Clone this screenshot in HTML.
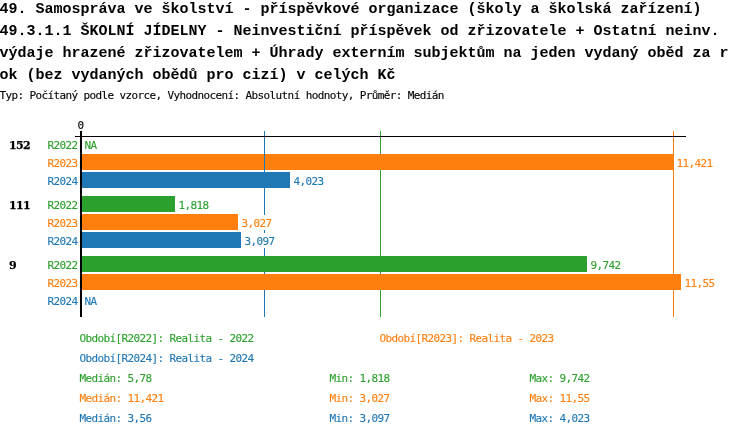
<!DOCTYPE html>
<html lang="cs"><head><meta charset="utf-8"><title>Graf</title>
<style>
html,body{margin:0;padding:0;background:#fff;}
body{width:750px;height:436px;position:relative;overflow:hidden;font-family:"Liberation Mono",monospace;}
.a{position:absolute;white-space:pre;}
.t{font-weight:bold;font-size:15px;line-height:22px;left:-0.5px;color:#000;}
.s{-webkit-text-stroke:0.12px;margin-left:-0.5px;font-family:"DejaVu Sans Mono","Liberation Mono",monospace;font-size:11px;letter-spacing:-0.62px;line-height:13px;height:13px;}
.l{background:#fff;height:15px;line-height:17px;}
.b{-webkit-text-stroke:0.25px;font-family:"DejaVu Serif","Liberation Serif",serif;font-weight:bold;font-size:11px;letter-spacing:-0.66px;line-height:13px;color:#000;}
.g{color:#2ca02c}.o{color:#ff7f0e}.u{color:#1f77b4}
.bg{background:#2ca02c}.bo{background:#ff7f0e}.bu{background:#1f77b4}
.k{background:#000}
</style></head>
<body>
<div class="a t" style="top:-1px">49. Samospráva ve školství - příspěvkové organizace (školy a školská zařízení)</div>
<div class="a t" style="top:21px">49.3.1.1 ŠKOLNÍ JÍDELNY - Neinvestiční příspěvek od zřizovatele + Ostatní neinv.</div>
<div class="a t" style="top:43px">výdaje hrazené zřizovatelem + Úhrady externím subjektům na jeden vydaný oběd za r</div>
<div class="a t" style="top:65px">ok (bez vydaných obědů pro cizí) v celých Kč</div>
<div class="a s" style="left:0px;top:89px;color:#000">Typ: Počítaný podle vzorce, Vyhodnocení: Absolutní hodnoty, Průměr: Medián</div>
<div class="a s" style="left:78px;top:119px;color:#000">0</div>
<div class="a bg" style="left:380px;top:131px;width:1px;height:186px"></div>
<div class="a bo" style="left:82px;top:154px;width:591px;height:16px"></div>
<div class="a bu" style="left:82px;top:172px;width:208px;height:16px"></div>
<div class="a bo" style="left:673px;top:131px;width:1px;height:186px"></div>
<div class="a bu" style="left:264px;top:131px;width:1px;height:186px"></div>
<div class="a bg" style="left:82px;top:196px;width:93px;height:16px"></div>
<div class="a bo" style="left:82px;top:214px;width:156px;height:16px"></div>
<div class="a bu" style="left:82px;top:232px;width:159px;height:16px"></div>
<div class="a bg" style="left:82px;top:256px;width:505px;height:16px"></div>
<div class="a bo" style="left:82px;top:274px;width:599px;height:16px"></div>
<div class="a k" style="left:75px;top:136px;width:611px;height:1px"></div>
<div class="a k" style="left:80px;top:131px;width:2px;height:186px"></div>
<div class="a b" style="left:9px;top:139px">152</div>
<div class="a s g" style="left:48px;top:139px">R2022</div>
<div class="a s l g" style="left:85px;top:137px">NA</div>
<div class="a s o" style="left:48px;top:157px">R2023</div>
<div class="a s l o" style="left:677px;top:155px">11,421</div>
<div class="a s u" style="left:48px;top:175px">R2024</div>
<div class="a s l u" style="left:294px;top:173px">4,023</div>
<div class="a b" style="left:9px;top:199px">111</div>
<div class="a s g" style="left:48px;top:199px">R2022</div>
<div class="a s l g" style="left:179px;top:197px">1,818</div>
<div class="a s o" style="left:48px;top:217px">R2023</div>
<div class="a s l o" style="left:242px;top:215px">3,027</div>
<div class="a s u" style="left:48px;top:235px">R2024</div>
<div class="a s l u" style="left:245px;top:233px">3,097</div>
<div class="a b" style="left:9px;top:259px">9</div>
<div class="a s g" style="left:48px;top:259px">R2022</div>
<div class="a s l g" style="left:591px;top:257px">9,742</div>
<div class="a s o" style="left:48px;top:277px">R2023</div>
<div class="a s l o" style="left:685px;top:275px">11,55</div>
<div class="a s u" style="left:48px;top:295px">R2024</div>
<div class="a s l u" style="left:85px;top:293px">NA</div>
<div class="a s g" style="left:80px;top:332px">Období[R2022]: Realita - 2022</div>
<div class="a s o" style="left:380px;top:332px">Období[R2023]: Realita - 2023</div>
<div class="a s u" style="left:80px;top:352px">Období[R2024]: Realita - 2024</div>
<div class="a s g" style="left:80px;top:372px">Medián: 5,78</div>
<div class="a s g" style="left:330px;top:372px">Min: 1,818</div>
<div class="a s g" style="left:530px;top:372px">Max: 9,742</div>
<div class="a s o" style="left:80px;top:392px">Medián: 11,421</div>
<div class="a s o" style="left:330px;top:392px">Min: 3,027</div>
<div class="a s o" style="left:530px;top:392px">Max: 11,55</div>
<div class="a s u" style="left:80px;top:412px">Medián: 3,56</div>
<div class="a s u" style="left:330px;top:412px">Min: 3,097</div>
<div class="a s u" style="left:530px;top:412px">Max: 4,023</div>
</body></html>
